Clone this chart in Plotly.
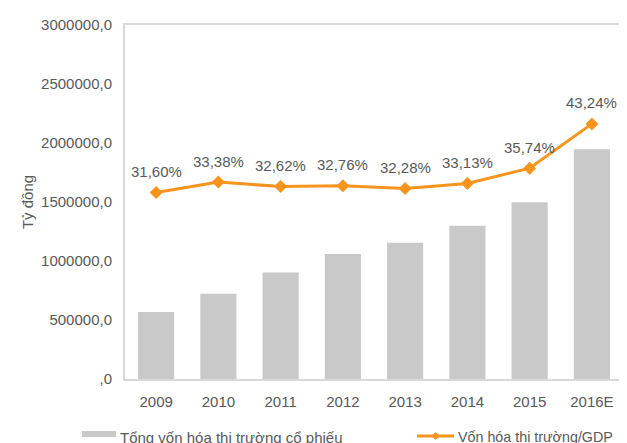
import plotly.graph_objects as go

years = ["2009", "2010", "2011", "2012", "2013", "2014", "2015", "2016E"]
market_cap = [568000, 723000, 903000, 1059000, 1155000, 1299000, 1497000, 1946000]
cap_gdp = [31.60, 33.38, 32.62, 32.76, 32.28, 33.13, 35.74, 43.24]
y_ticks = [0, 500000, 1000000, 1500000, 2000000, 2500000, 3000000]
y_tick_text = [",0", "500000,0", "1000000,0", "1500000,0", "2000000,0", "2500000,0", "3000000,0"]
label_text = [f"{v:.2f}%".replace(".", ",") for v in cap_gdp]
legend_names = ["Tổng vốn hóa thị trường cổ phiếu", "Vốn hóa thị trường/GDP"]

FONT = "Liberation Sans, Arial, sans-serif"
GRAY_TXT = "#595959"
ORANGE = "#F7941D"
BAR = "#C9C9CA"

fig = go.Figure()
fig.add_trace(go.Bar(
    x=years, y=market_cap, name=legend_names[0],
    marker=dict(color=BAR, line=dict(width=0)), showlegend=False,
))
fig.add_trace(go.Scatter(
    x=years, y=cap_gdp, name=legend_names[1], yaxis="y2",
    mode="lines+markers", line=dict(color=ORANGE, width=3),
    marker=dict(symbol="diamond", size=10, color=ORANGE), showlegend=False,
))
for i, (v, t) in enumerate(zip(cap_gdp, label_text)):
    fig.add_annotation(x=i, y=v, xref="x", yref="y2", text=t, showarrow=False,
                       yshift=21, font=dict(family=FONT, size=15, color=GRAY_TXT))

# custom legend (paper coordinates; page pixel -> paper fraction)
def px(xp):
    return (xp - 125) / 498.0
def py(yp):
    return (379 - yp) / 354.0

fig.add_shape(type="rect", xref="paper", yref="paper",
              x0=px(82), x1=px(116), y0=py(437), y1=py(431),
              fillcolor=BAR, line=dict(width=0))
fig.add_annotation(xref="paper", yref="paper", x=px(118), y=py(437), xanchor="left",
                   yanchor="middle", text=legend_names[0], showarrow=False,
                   font=dict(family=FONT, size=15, color=GRAY_TXT))
fig.add_shape(type="line", xref="paper", yref="paper",
              x0=px(417), x1=px(454), y0=py(436), y1=py(436),
              line=dict(color=ORANGE, width=3))
fig.add_shape(type="path", xref="paper", yref="paper",
              path=f"M {px(431.5)} {py(436)} L {px(435.5)} {py(432)} L {px(439.5)} {py(436)} L {px(435.5)} {py(440)} Z",
              fillcolor=ORANGE, line=dict(width=0))
fig.add_annotation(xref="paper", yref="paper", x=px(456), y=py(437), xanchor="left",
                   yanchor="middle", text=legend_names[1], showarrow=False,
                   font=dict(family=FONT, size=14.3, color=GRAY_TXT))

fig.update_layout(
    width=619, height=435,
    margin=dict(l=117, r=4, t=17, b=64),
    paper_bgcolor="white", plot_bgcolor="white",
    font=dict(family=FONT, size=15, color=GRAY_TXT),
    bargap=0.42,
    showlegend=False,
    xaxis=dict(type="category", range=[-0.5, len(years) - 0.5],
               showline=True, linecolor="#D9D9D9", linewidth=2, mirror=True,
               showgrid=False, ticks="", ticklabelstandoff=8,
               tickfont=dict(size=15, color=GRAY_TXT)),
    yaxis=dict(range=[0, 3000000], tickvals=y_ticks, ticktext=y_tick_text,
               showline=True, linecolor="#D9D9D9", linewidth=2, mirror=True,
               showgrid=False, zeroline=False, ticks="", ticklabelstandoff=8,
               tickfont=dict(size=15, color=GRAY_TXT),
               title=dict(text="Tỷ đồng", standoff=4, font=dict(size=15, color=GRAY_TXT)),
               automargin=False),
    yaxis2=dict(range=[0, 60], overlaying="y", side="right", visible=False),
)
fig.write_html("out.html")
